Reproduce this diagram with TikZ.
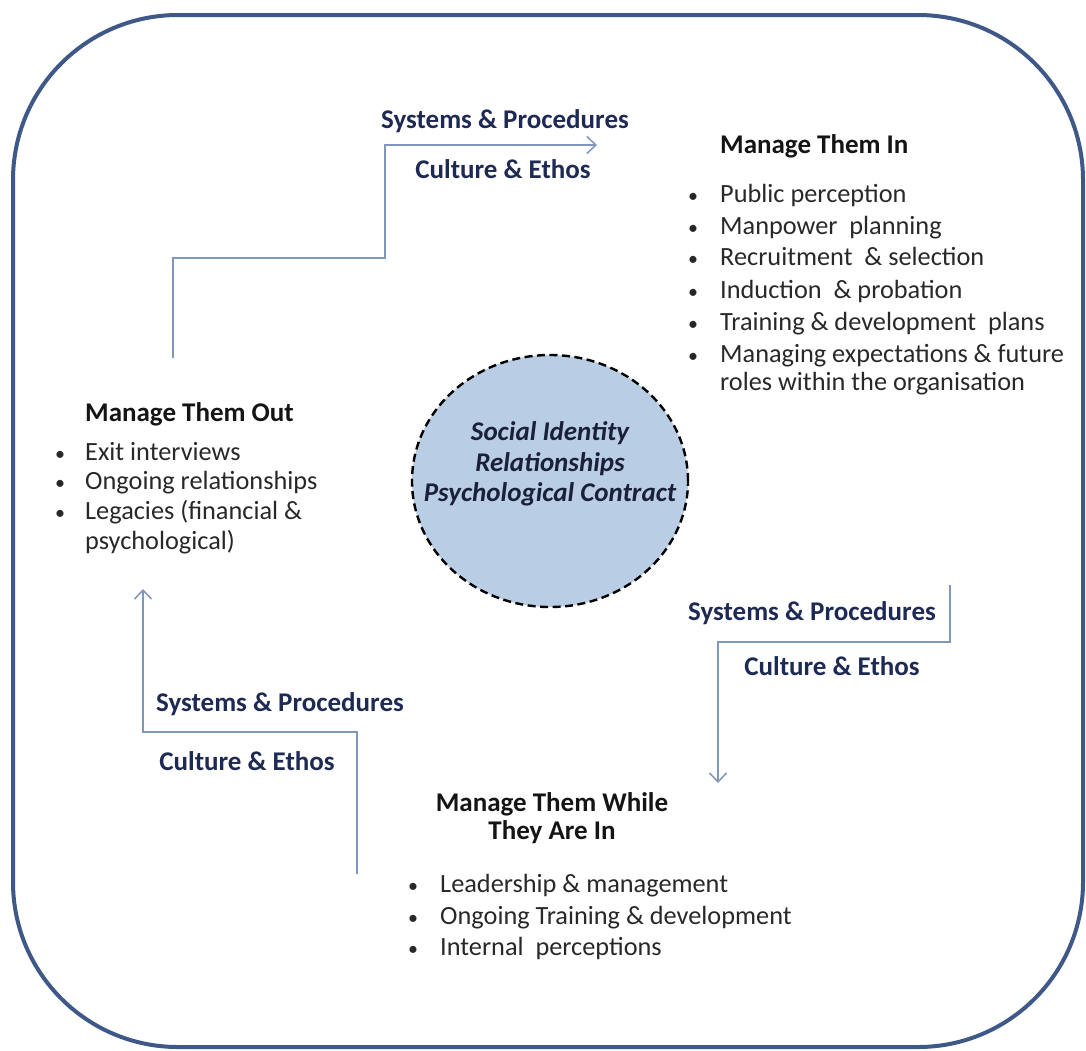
\documentclass[tikz,border=0pt]{standalone}
\usepackage{fontspec}
\setmainfont{Carlito}
\usetikzlibrary{arrows.meta,shapes.geometric}
\definecolor{framecol}{RGB}{62,88,135}
\definecolor{flowcol}{RGB}{128,150,186}
\definecolor{navy}{RGB}{30,42,84}
\definecolor{bodytext}{RGB}{40,40,40}
\definecolor{corefill}{RGB}{185,205,228}
\definecolor{coretext}{RGB}{26,32,56}
\begin{document}
\begin{tikzpicture}[x=1pt,y=-1pt,
  heading/.style={font=\fontsize{27}{30}\selectfont\bfseries, text=black!92, inner sep=0pt},
  item/.style={font=\fontsize{26.3}{30}\selectfont, text=bodytext, anchor=base west, inner sep=0pt},
  dot/.style={font=\fontsize{20}{22}\selectfont, text=bodytext, anchor=base, inner sep=0pt},
  flowlabel/.style={font=\fontsize{27}{30}\selectfont\bfseries, text=navy, anchor=base, inner sep=0pt},
  coreline/.style={font=\fontsize{27}{30}\selectfont\bfseries\itshape, text=coretext, anchor=base, inner sep=0pt},
  flowline/.style={draw=flowcol, line width=1.8pt, -{Straight Barb[length=9pt,width=17pt,line width=1.5pt]}},
]
\useasboundingbox (0,0) rectangle (1086,1050);

% outer frame
\draw[framecol, line width=4pt, rounded corners=165pt] (13,15) rectangle (1083,1047);

% central core
\node (core) [ellipse, draw=black, fill=corefill, line width=2.4pt,
  dash pattern=on 8pt off 4.5pt, minimum width=276pt, minimum height=252pt, inner sep=0pt] at (550,481) {};
\node (c1) [coreline] at (550,440) {Social Identity};
\node (c2) [coreline] at (550,471) {Relationships};
\node (c3) [coreline] at (550,501) {Psychological Contract};

% Manage Them In
\node (hIn) [heading, anchor=base west] at (720,153) {Manage Them In};
\foreach \y/\t [count=\i] in {202/Public perception, 234/Manpower\ \ planning,
    265/Recruitment\ \ \& selection, 298/Induction\ \ \& probation,
    330/Training \& development\ \ plans, 362/Managing expectations \& future}{
  \node (inDot\i) [dot] at (693,\y) {\textbullet};
  \node (inItem\i) [item] at (720,\y) {\t};
}
\node (inItem7) [item] at (720,390) {roles within the organisation};

% Manage Them Out
\node (hOut) [heading, anchor=base west] at (85,421) {Manage Them Out};
\foreach \y/\t [count=\i] in {460/Exit interviews, 489/Ongoing relationships,
    519/Legacies (financial \&}{
  \node (outDot\i) [dot] at (60,\y) {\textbullet};
  \node (outItem\i) [item] at (85,\y) {\t};
}
\node (outItem4) [item] at (85,549) {psychological)};

% Manage Them While They Are In
\node (hWhile1) [heading, anchor=base] at (552,811) {Manage Them While};
\node (hWhile2) [heading, anchor=base] at (552,839) {They Are In};
\foreach \y/\t [count=\i] in {892/Leadership \& management,
    924/Ongoing Training \& development, 955/Internal\ \ perceptions}{
  \node (whDot\i) [dot] at (413,\y) {\textbullet};
  \node (whItem\i) [item] at (440,\y) {\t};
}

% flow paths between the stages
\coordinate (outTop) at (173,358);
\coordinate (inEntry) at (597,145);
\coordinate (inBottom) at (950,585);
\coordinate (whileEntry) at (718,783);
\coordinate (whileLeft) at (357,874);
\coordinate (outEntry) at (143,589);

\draw[flowline] (outTop) |- (385,258) |- (inEntry);
\draw[flowline] (inBottom) |- (whileEntry |- 0,642) -- (whileEntry);
\draw[flowline] (whileLeft) |- (outEntry |- 0,732) -- (outEntry);

% labels along the flow paths
\node (sp1) [flowlabel] at (505,128) {Systems \& Procedures};
\node (ce1) [flowlabel] at (503,178) {Culture \& Ethos};
\node (sp2) [flowlabel] at (812,620) {Systems \& Procedures};
\node (ce2) [flowlabel] at (832,675) {Culture \& Ethos};
\node (sp3) [flowlabel] at (280,711) {Systems \& Procedures};
\node (ce3) [flowlabel] at (247,770) {Culture \& Ethos};
\end{tikzpicture}
\end{document}
